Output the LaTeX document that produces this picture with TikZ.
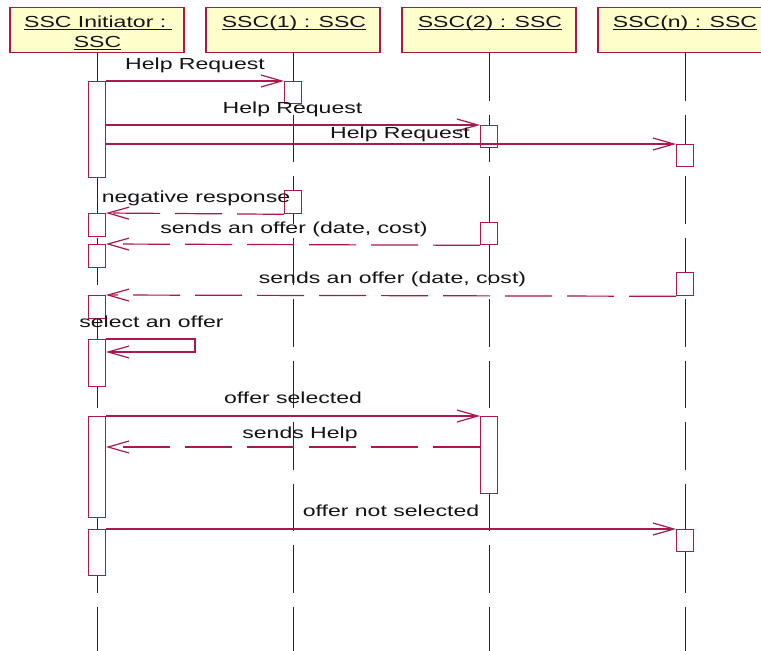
\documentclass[tikz,border=0pt]{standalone}
\usepackage{fontspec}
\setmainfont[FakeStretch=1.44]{Liberation Sans}
\usetikzlibrary{arrows.meta}
\definecolor{umlred}{RGB}{172,24,74}
\definecolor{headfill}{RGB}{255,255,204}
\definecolor{txt}{RGB}{20,20,20}
\tikzset{
  head/.style={draw=umlred, fill=headfill, line width=1.3pt, minimum width=174pt, minimum height=45pt, inner sep=0pt},
  htext/.style={anchor=base, inner sep=0pt, text=txt, font=\fontsize{16pt}{19pt}\selectfont},
  uline/.style={draw=txt, line width=1.4pt},
  life/.style={draw=black!85, line width=0.9pt, dash pattern=on 47.5pt off 14pt},
  act/.style={draw=umlred, fill=white, line width=1.3pt, minimum width=16.5pt, inner sep=0pt, anchor=north},
  msg/.style={draw=umlred, line width=1.2pt, -{Straight Barb[length=21pt,width=12pt]}},
  ret/.style={msg, dash pattern=on 47pt off 15pt},
  lbl/.style={anchor=base, inner sep=0pt, text=txt, font=\fontsize{16pt}{19pt}\selectfont},
}
\begin{document}
\begin{tikzpicture}[x=1pt,y=-1pt]
\useasboundingbox[fill=white] (0,0) rectangle (761,651);
% headers
\node[head] (h1) at (97,30) {};
\node[head] (h2) at (293,30) {};
\node[head] (h3) at (489,30) {};
\node[head] (h4) at (685,30) {};
\node[htext] (t1) at (98,27) {SSC Initiator :\kern.35em};
\node[htext] (t1b) at (97.5,47) {SSC};
\node[htext] (t2) at (294,27) {SSC(1) : SSC};
\node[htext] (t3) at (490,27) {SSC(2) : SSC};
\node[htext] (t4) at (685,27) {SSC(n) : SSC};
\foreach \t in {t1,t1b,t2,t3,t4}
  \draw[uline] ([yshift=-2.4pt]\t.base west) -- ([yshift=-2.4pt]\t.base east);
% lifeline ends
\coordinate (e1) at (97,651);
\coordinate (e2) at (293,651);
\coordinate (e3) at (489,651);
\coordinate (e4) at (685,651);
\draw[life] (h1.south) -- (e1);
\draw[life] (h2.south) -- (e2);
\draw[life] (h3.south) -- (e3);
\draw[life] (h4.south) -- (e4);
% activations, initiator
\node[act, minimum height=96pt] (a1) at (97,81) {};
\node[act, minimum height=23pt] (a2) at (97,213) {};
\node[act, minimum height=23pt] (a3) at (97,244) {};
\node[act, minimum height=23pt] (a4) at (97,295) {};
\node[act, minimum height=47pt] (a5) at (97,339) {};
\node[act, minimum height=101pt] (a6) at (97,416) {};
\node[act, minimum height=46pt] (a7) at (97,529) {};
% SSC(1)
\node[act, minimum height=22pt] (b1) at (293,81) {};
\node[act, minimum height=23pt] (b2) at (293,190) {};
% SSC(2)
\node[act, minimum height=22pt] (c1) at (489,125) {};
\node[act, minimum height=22pt] (c2) at (489,222) {};
\node[act, minimum height=77pt] (c3) at (489,416) {};
% SSC(n)
\node[act, minimum height=22pt] (d1) at (685,144) {};
\node[act, minimum height=23pt] (d2) at (685,272) {};
\node[act, minimum height=22pt] (d3) at (685,529) {};
% messages
\draw[msg] (a1.north east) -- (b1.north west);
\node[lbl] (l1) at (195,69) {Help Request};
\draw[msg] (a1.east |- c1.north west) -- (c1.north west);
\node[lbl] (l2) at (292.5,113) {Help Request};
\draw[msg] (a1.east |- d1.north west) -- (d1.north west);
\node[lbl] (l3) at (400,138) {Help Request};
\draw[ret] (b2.south west) -- (a2.north east);
\node[lbl] (l4) at (196,202) {negative response};
\draw[ret] (c2.south west) -- (a3.north east);
\node[lbl] (l5) at (294,233) {sends an offer (date, cost)};
\draw[ret] (d2.south west) -- (a4.north east);
\node[lbl] (l6) at (392.5,283) {sends an offer (date, cost)};
\draw[msg] (a5.north east) -- ++(89,0) -- ++(0,13) -- ++(-89,0);
\node[lbl] (l7) at (151.5,327) {select an offer};
\draw[msg] (a6.north east) -- (c3.north west);
\node[lbl] (l8) at (293,403) {offer selected};
\coordinate (sh) at (0,447);
\draw[ret] (c3.west |- sh) -- (a6.east |- sh);
\node[lbl] (l9) at (300,438) {sends Help};
\draw[msg] (a7.north east) -- (d3.north west);
\node[lbl] (l10) at (391,516) {offer not selected};
\end{tikzpicture}
\end{document}
